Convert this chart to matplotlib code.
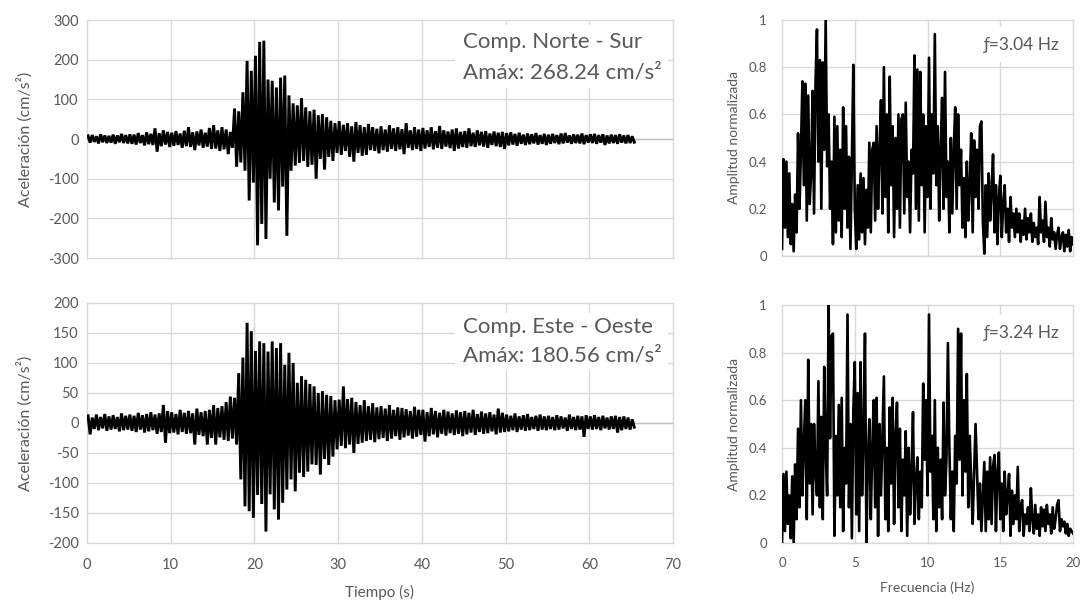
import numpy as np
import matplotlib
matplotlib.use("Agg")
import matplotlib.pyplot as plt
from matplotlib.patches import Rectangle

plt.rcParams['font.family'] = ['Lato', 'DejaVu Sans']
plt.rcParams['axes.unicode_minus'] = False

# ---------------------------------------------------------------------------
# Accelerograms: positive / negative peak per 0.5 s window (cm/s2)
# ---------------------------------------------------------------------------
dt_window = 0.5

ns_peak_pos = [
    8, 10, 7, 12, 9, 8, 11, 9, 13, 10,
    12, 11, 15, 10, 17, 13, 27, 15, 22, 18,
    16, 20, 14, 21, 30, 17, 19, 24, 16, 28,
    35, 22, 30, 24, 18, 77, 70, 118, 197, 172,
    210, 245, 248, 150, 147, 130, 155, 160, 110, 90,
    85, 103, 80, 70, 74, 60, 63, 55, 46, 40,
    45, 36, 40, 32, 43, 35, 30, 38, 30, 26,
    32, 24, 35, 27, 30, 25, 40, 22, 30, 24,
    28, 22, 30, 20, 33, 22, 19, 24, 27, 18,
    20, 27, 16, 22, 18, 20, 14, 19, 16, 18,
    15, 17, 13, 16, 11, 14, 12, 15, 10, 13,
    11, 13, 10, 14, 15, 9, 12, 11, 14, 10,
    12, 13, 10, 12, 9, 11, 10, 12, 9, 10,
    7,
]
ns_peak_neg = [
    -9, -7, -11, -8, -10, -9, -12, -8, -10, -11,
    -12, -14, -10, -16, -13, -15, -32, -18, -14, -20,
    -17, -15, -22, -18, -20, -28, -16, -22, -19, -25,
    -24, -30, -26, -38, -22, -70, -59, -80, -155, -110,
    -268, -214, -252, -100, -160, -180, -120, -244, -80, -67,
    -60, -55, -70, -65, -100, -50, -77, -45, -55, -35,
    -40, -30, -45, -57, -35, -42, -40, -28, -30, -36,
    -28, -32, -25, -30, -26, -38, -22, -28, -25, -30,
    -24, -20, -26, -22, -25, -19, -23, -30, -24, -20,
    -22, -18, -20, -16, -19, -22, -15, -18, -20, -25,
    -16, -14, -17, -12, -15, -13, -11, -14, -12, -15,
    -12, -10, -13, -11, -9, -12, -10, -11, -13, -9,
    -10, -12, -9, -15, -11, -10, -12, -9, -11, -10,
    -8,
]

ew_peak_pos = [
    12, 9, 14, 10, 15, 11, 13, 10, 16, 12,
    14, 12, 17, 13, 15, 18, 14, 16, 30, 20,
    18, 15, 22, 17, 20, 16, 24, 18, 20, 22,
    30, 25, 28, 35, 44, 42, 83, 109, 167, 153,
    120, 136, 133, 119, 136, 125, 133, 97, 117, 100,
    67, 78, 72, 65, 61, 50, 53, 47, 45, 38,
    39, 61, 40, 42, 35, 30, 38, 28, 33, 26,
    28, 24, 30, 22, 26, 25, 23, 20, 27, 22,
    22, 18, 25, 20, 17, 22, 19, 16, 21, 18,
    20, 17, 22, 15, 19, 16, 18, 14, 24, 17,
    14, 12, 16, 11, 13, 15, 10, 12, 14, 11,
    12, 10, 13, 11, 9, 14, 10, 12, 11, 13,
    11, 13, 10, 12, 9, 11, 12, 10, 11, 9,
    6,
]
ew_peak_neg = [
    -19, -10, -12, -9, -13, -11, -10, -14, -12, -11,
    -13, -15, -11, -16, -14, -12, -18, -15, -33, -17,
    -16, -19, -15, -18, -17, -36, -20, -22, -36, -25,
    -36, -24, -28, -30, -26, -36, -94, -139, -147, -158,
    -120, -135, -181, -119, -144, -161, -133, -111, -94, -114,
    -83, -90, -81, -69, -70, -86, -60, -70, -56, -44,
    -38, -42, -36, -50, -35, -33, -30, -28, -32, -27,
    -25, -30, -26, -22, -28, -24, -21, -26, -23, -20,
    -31, -22, -19, -24, -18, -21, -17, -20, -18, -22,
    -19, -16, -20, -15, -18, -17, -14, -19, -16, -15,
    -14, -12, -15, -11, -13, -12, -10, -13, -11, -12,
    -10, -12, -11, -9, -13, -10, -12, -11, -23, -10,
    -11, -10, -12, -9, -11, -10, -16, -12, -10, -11,
    -7,
]

# ---------------------------------------------------------------------------
# Normalised Fourier amplitude spectra, sampled every 0.1 Hz from 0 to 20 Hz
# ---------------------------------------------------------------------------
df = 0.1

ns_spectrum = [
    0.03, 0.41, 0.12, 0.40, 0.08, 0.35, 0.05, 0.22, 0.02, 0.26,
    0.10, 0.52, 0.20, 0.45, 0.74, 0.30, 0.73, 0.15, 0.68, 0.22,
    0.35, 0.70, 0.18, 0.73, 0.96, 0.40, 0.83, 0.20, 0.82, 0.45,
    1.00, 0.38, 0.60, 0.20, 0.40, 0.05, 0.59, 0.10, 0.55, 0.15,
    0.45, 0.08, 0.63, 0.20, 0.55, 0.12, 0.42, 0.03, 0.40, 0.81,
    0.20, 0.03, 0.30, 0.07, 0.35, 0.10, 0.33, 0.05, 0.28, 0.12,
    0.48, 0.10, 0.45, 0.48, 0.15, 0.55, 0.20, 0.45, 0.66, 0.18,
    0.80, 0.25, 0.60, 0.10, 0.76, 0.30, 0.55, 0.08, 0.50, 0.20,
    0.60, 0.12, 0.58, 0.60, 0.18, 0.65, 0.25, 0.40, 0.10, 0.45,
    0.35, 0.85, 0.20, 0.79, 0.15, 0.78, 0.30, 0.60, 0.10, 0.55,
    0.25, 0.84, 0.20, 0.60, 0.35, 0.94, 0.30, 0.55, 0.15, 0.45,
    0.67, 0.20, 0.78, 0.25, 0.40, 0.10, 0.50, 0.18, 0.45, 0.63,
    0.20, 0.60, 0.30, 0.45, 0.12, 0.33, 0.08, 0.40, 0.15, 0.30,
    0.52, 0.10, 0.49, 0.25, 0.45, 0.20, 0.55, 0.57, 0.15, 0.01,
    0.30, 0.08, 0.35, 0.15, 0.28, 0.43, 0.10, 0.30, 0.05, 0.25,
    0.34, 0.08, 0.22, 0.30, 0.10, 0.20, 0.06, 0.25, 0.12, 0.18,
    0.08, 0.20, 0.10, 0.18, 0.06, 0.15, 0.09, 0.20, 0.07, 0.16,
    0.10, 0.18, 0.06, 0.14, 0.08, 0.12, 0.05, 0.25, 0.10, 0.15,
    0.06, 0.23, 0.08, 0.12, 0.04, 0.16, 0.07, 0.10, 0.03, 0.09,
    0.12, 0.03, 0.08, 0.10, 0.02, 0.09, 0.04, 0.11, 0.02, 0.08,
    0.05,
]

ew_spectrum = [
    0.00, 0.29, 0.05, 0.30, 0.08, 0.20, 0.02, 0.28, 0.00, 0.33,
    0.10, 0.48, 0.15, 0.60, 0.20, 0.42, 0.60, 0.10, 0.77, 0.25,
    0.50, 0.12, 0.50, 0.30, 0.20, 0.68, 0.15, 0.53, 0.10, 0.74,
    0.40, 0.20, 1.00, 0.44, 0.87, 0.88, 0.03, 0.45, 0.20, 0.58,
    0.15, 0.61, 0.05, 0.40, 0.25, 0.96, 0.15, 0.50, 0.02, 0.56,
    0.76, 0.12, 0.63, 0.05, 0.76, 0.20, 0.45, 0.88, 0.00, 0.35,
    0.52, 0.10, 0.40, 0.60, 0.15, 0.61, 0.03, 0.50, 0.20, 0.45,
    0.70, 0.10, 0.40, 0.05, 0.57, 0.25, 0.61, 0.08, 0.45, 0.59,
    0.15, 0.48, 0.05, 0.35, 0.20, 0.47, 0.03, 0.40, 0.12, 0.30,
    0.55, 0.08, 0.25, 0.36, 0.10, 0.30, 0.15, 0.67, 0.35, 0.60,
    0.20, 0.96, 0.30, 0.45, 0.10, 0.60, 0.05, 0.40, 0.15, 0.35,
    0.10, 0.59, 0.20, 0.35, 0.84, 0.40, 0.10, 0.30, 0.05, 0.45,
    0.25, 0.90, 0.35, 0.88, 0.20, 0.60, 0.30, 0.71, 0.15, 0.45,
    0.25, 0.08, 0.30, 0.50, 0.30, 0.10, 0.25, 0.05, 0.20, 0.34,
    0.05, 0.30, 0.10, 0.36, 0.08, 0.32, 0.37, 0.05, 0.30, 0.38,
    0.10, 0.25, 0.05, 0.30, 0.12, 0.20, 0.29, 0.03, 0.22, 0.08,
    0.20, 0.10, 0.32, 0.05, 0.15, 0.18, 0.03, 0.12, 0.08, 0.15,
    0.05, 0.23, 0.10, 0.04, 0.16, 0.06, 0.12, 0.03, 0.15, 0.07,
    0.14, 0.05, 0.16, 0.08, 0.12, 0.04, 0.15, 0.06, 0.10, 0.16,
    0.18, 0.05, 0.10, 0.07, 0.09, 0.04, 0.08, 0.03, 0.06, 0.05,
    0.04,
]

# Annotations
ns_title = "Comp. Norte - Sur"
ns_amax = "Amáx: 268.24 cm/s²"
ew_title = "Comp. Este - Oeste"
ew_amax = "Amáx: 180.56 cm/s²"
ns_freq = "ƒ=3.04 Hz"
ew_freq = "ƒ=3.24 Hz"

time_ticks = list(range(0, 71, 10))
ns_acc_ticks = list(range(-300, 301, 100))
ew_acc_ticks = list(range(-200, 201, 50))
freq_ticks = list(range(0, 21, 5))
amp_ticks = [0, 0.2, 0.4, 0.6, 0.8, 1]
amp_labels = ["0", "0.2", "0.4", "0.6", "0.8", "1"]

TEXT = "#595959"
GRID = "#d9d9d9"
AXIS = "#bfbfbf"


def zigzag(pos, neg, step):
    """Interleave positive and negative peaks of consecutive windows."""
    pos = np.asarray(pos, float)
    neg = np.asarray(neg, float)
    t0 = np.arange(len(pos)) * step
    t = np.column_stack([t0 + 0.25 * step, t0 + 0.75 * step]).ravel()
    a = np.column_stack([pos, neg]).ravel()
    return t, a


def style(ax, ytick_size, xtick_size, ypad, xpad):
    for s in ax.spines.values():
        s.set_visible(False)
    ax.grid(True, color=GRID, lw=1.0)
    ax.set_axisbelow(True)
    ax.tick_params(length=0, colors=TEXT)
    ax.tick_params(axis="y", labelsize=ytick_size, pad=ypad)
    ax.tick_params(axis="x", labelsize=xtick_size, pad=xpad)
    for gl in ax.get_xgridlines() + ax.get_ygridlines():
        gl.set_clip_on(False)
    ax.axhline(0, color=AXIS, lw=1.0, zorder=1.5)


fig = plt.figure(figsize=(10.86, 6.04), dpi=100)
ax_ns = fig.add_axes([0.0801, 0.5728, 0.5396, 0.3940])
ax_ew = fig.add_axes([0.0801, 0.1010, 0.5396, 0.3974])
ax_fns = fig.add_axes([0.7201, 0.5762, 0.2680, 0.3907])
ax_few = fig.add_axes([0.7201, 0.1010, 0.2680, 0.3940])

# --- accelerograms ---
for ax, pos, neg, ticks, lim in [
    (ax_ns, ns_peak_pos, ns_peak_neg, ns_acc_ticks, 300),
    (ax_ew, ew_peak_pos, ew_peak_neg, ew_acc_ticks, 200),
]:
    t, a = zigzag(pos, neg, dt_window)
    ax.plot(t, a, color="black", lw=2.1, zorder=3, solid_joinstyle="miter")
    ax.set_xlim(0, 70)
    ax.set_ylim(-lim, lim)
    ax.set_xticks(time_ticks)
    ax.set_yticks(ticks)
    style(ax, 10.5, 10.5, 6, 11)
    ax.set_ylabel("Aceleración (cm/s²)", color=TEXT, fontsize=11.5)
    ax.yaxis.set_label_coords(-0.092, 0.5)

ax_ns.tick_params(axis="x", labelbottom=False)
ax_ew.set_xlabel("Tiempo (s)", color=TEXT, fontsize=11)
ax_ew.xaxis.set_label_coords(0.5, -0.175)

# --- spectra ---
for ax, amp in [(ax_fns, ns_spectrum), (ax_few, ew_spectrum)]:
    f = np.arange(len(amp)) * df
    ax.plot(f, amp, color="black", lw=1.9, zorder=3)
    ax.set_xlim(0, 20)
    ax.set_ylim(0, 1)
    ax.set_xticks(freq_ticks)
    ax.set_yticks(amp_ticks)
    ax.set_yticklabels(amp_labels)
    style(ax, 9.5, 9.5, 11, 10)
    ax.set_ylabel("Amplitud normalizada", color=TEXT, fontsize=10)
    ax.yaxis.set_label_coords(-0.145, 0.5)

ax_fns.tick_params(axis="x", labelbottom=False)
ax_few.set_xlabel("Frecuencia (Hz)", color=TEXT, fontsize=10)
ax_few.xaxis.set_label_coords(0.5, -0.162)


# --- text boxes ---
def label_box(ax, x0, y0, w, h):
    ax.add_patch(Rectangle((x0, y0), w, h, transform=ax.transAxes,
                           facecolor="white", edgecolor="none",
                           zorder=2, clip_on=False))


label_box(ax_ns, 0.628, 0.714, 0.364, 0.265)
ax_ns.text(0.642, 0.9076, ns_title, transform=ax_ns.transAxes, ha="left",
           va="center", fontsize=16, color=TEXT, zorder=4)
ax_ns.text(0.642, 0.7815, ns_amax, transform=ax_ns.transAxes, ha="left",
           va="center", fontsize=16, color=TEXT, zorder=4)

label_box(ax_ew, 0.628, 0.72, 0.364, 0.24)
ax_ew.text(0.642, 0.900, ew_title, transform=ax_ew.transAxes, ha="left",
           va="center", fontsize=16, color=TEXT, zorder=4)
ax_ew.text(0.642, 0.783, ew_amax, transform=ax_ew.transAxes, ha="left",
           va="center", fontsize=16, color=TEXT, zorder=4)

label_box(ax_fns, 0.67, 0.82, 0.32, 0.15)
ax_fns.text(0.69, 0.894, ns_freq, transform=ax_fns.transAxes, ha="left",
            va="center", fontsize=12.5, color=TEXT, zorder=4)
label_box(ax_few, 0.67, 0.81, 0.32, 0.15)
ax_few.text(0.69, 0.882, ew_freq, transform=ax_few.transAxes, ha="left",
            va="center", fontsize=12.5, color=TEXT, zorder=4)

fig.savefig("out.png", dpi=100, facecolor="white")
